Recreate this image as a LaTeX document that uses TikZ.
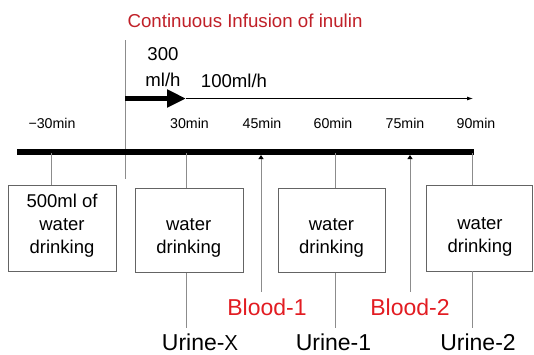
\documentclass[tikz,border=0pt]{standalone}
\usepackage{fontspec}
\setmainfont{Liberation Sans}
\usetikzlibrary{arrows.meta}
\definecolor{inured}{RGB}{192,32,40}
\definecolor{bloodred}{RGB}{226,28,34}
\definecolor{linegray}{RGB}{140,140,140}
\definecolor{boxgray}{RGB}{100,100,100}
\begin{document}
\begin{tikzpicture}[x=1pt,y=-1pt,
    thinline/.style={draw=linegray, line width=0.9pt},
    drinkbox/.style={draw=boxgray, line width=0.9pt, minimum width=107pt, minimum height=84pt, inner sep=0pt},
    boxtext/.style={align=center, inner sep=0pt, font=\fontsize{18.5}{23}\selectfont},
    timelbl/.style={font=\fontsize{14.2}{17}\selectfont, inner sep=0pt},
    ratelbl/.style={font=\fontsize{18.6}{22}\selectfont, inner sep=0pt},
    sample/.style={font=\fontsize{23}{27}\selectfont, inner sep=0pt}]
    \useasboundingbox (0,0) rectangle (534,354);
    % title
    \node[text=inured, font=\fontsize{18.7}{22}\selectfont, inner sep=0pt] (title) at (245,20.5) {Continuous Infusion of inulin};
    % start of infusion
    \coordinate (inftop) at (125,40);
    \coordinate (infbot) at (125,178.5);
    \draw[thinline] (inftop) -- (infbot);
    % infusion rates
    \node[ratelbl] (rate300) at (163,54.5) {300};
    \node[ratelbl] (rateml) at (163,80) {ml/h};
    \node[ratelbl] (rate100) at (234,80.5) {100ml/h};
    \coordinate (arrA) at (125,98.5);
    \coordinate (arrB) at (186,98.5);
    \coordinate (arrC) at (473,98.5);
    \draw[line width=5.5pt, -{Triangle[length=19pt,width=17pt]}] (arrA) -- (arrB);
    \draw[line width=0.8pt, -{Latex[length=6pt,width=4pt]}] (arrB) -- (arrC);
    % time labels
    \node[timelbl] (tm30) at (52,123) {−30min};
    \node[timelbl] (t30) at (189.5,123) {30min};
    \node[timelbl] (t45) at (262,123) {45min};
    \node[timelbl] (t60) at (333,123) {60min};
    \node[timelbl] (t75) at (405,123) {75min};
    \node[timelbl] (t90) at (476,123) {90min};
    % time line
    \coordinate (tlL) at (17,152);
    \coordinate (tlR) at (474,152);
    \draw[line width=6pt] (tlL) -- (tlR);
    \coordinate (p1) at (51,153);
    \coordinate (p2) at (186,153);
    \coordinate (pb1) at (261,155);
    \coordinate (p3) at (335,153);
    \coordinate (pb2) at (410,155);
    \coordinate (p4) at (472,153);
    % boxes
    \node[drinkbox, minimum width=107.5pt, minimum height=86pt] (box1) at (62.25,228) {};
    \node[drinkbox, minimum width=108pt] (box2) at (189,230.7) {};
    \node[drinkbox] (box3) at (331.5,230.7) {};
    \node[drinkbox, minimum width=106pt, minimum height=86pt] (box4) at (479,228) {};
    \node[boxtext] (txt1) at (62,225.5) {500ml of\\water\\drinking};
    \node[boxtext] (txt2) at (188.7,237.5) {water\\drinking};
    \node[boxtext] (txt3) at (331.5,237.5) {water\\drinking};
    \node[boxtext] (txt4) at (480,236.5) {water\\drinking};
    \draw[thinline] (p1) -- (p1 |- box1.north);
    \draw[thinline] (p2) -- (p2 |- box2.north);
    \draw[thinline] (p3) -- (p3 |- box3.north);
    \draw[thinline] (p4) -- (p4 |- box4.north);
    % blood sampling
    \node[sample, text=bloodred] (blood1) at (267,307.5) {Blood-1};
    \node[sample, text=bloodred] (blood2) at (410,307.5) {Blood-2};
    \coordinate (b1) at (261,291.5);
    \coordinate (b2) at (410,291.5);
    \draw[thinline, -{Triangle[length=4pt,width=5pt,black]}] (b1) -- (pb1);
    \draw[thinline, -{Triangle[length=4pt,width=5pt,black]}] (b2) -- (pb2);
    % urine sampling
    \node[sample, anchor=base] (urinex) at (200,350) {Urine-{\sffamily\fontsize{21.5}{26}\selectfont X}};
    \node[sample, anchor=base] (urine1) at (333.5,350) {Urine-1};
    \node[sample, anchor=base] (urine2) at (478,350) {Urine-2};
    \coordinate (u2) at (186,327.5);
    \coordinate (u3) at (335,327.5);
    \coordinate (u4) at (472,327.5);
    \draw[thinline] (p2 |- box2.south) -- (u2);
    \draw[thinline] (p3 |- box3.south) -- (u3);
    \draw[thinline] (p4 |- box4.south) -- (u4);
\end{tikzpicture}
\end{document}
